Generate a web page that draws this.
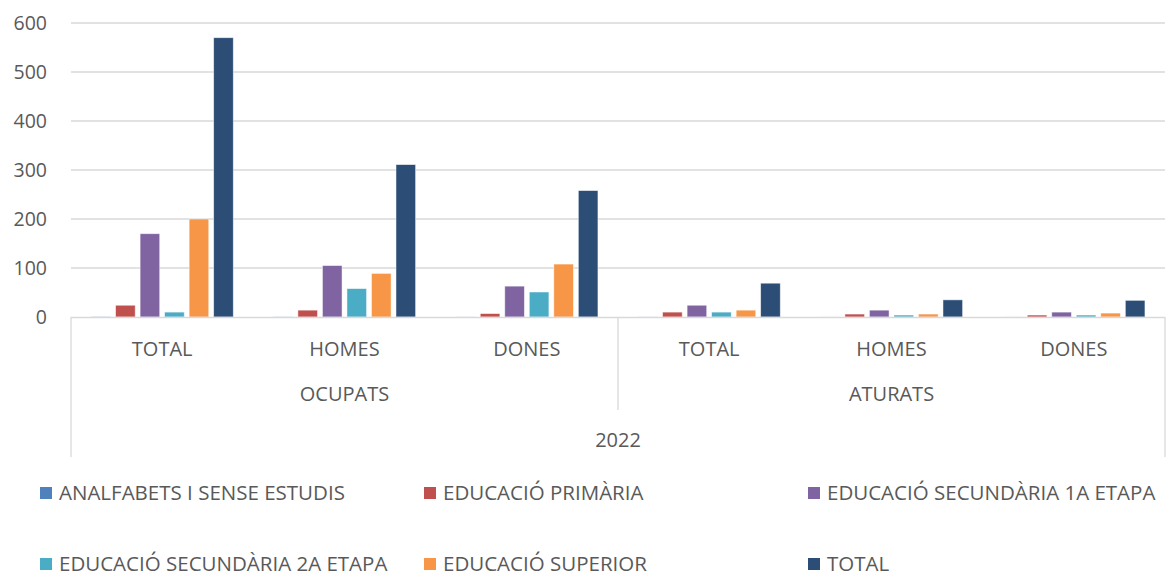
<!DOCTYPE html>
<html>
<head>
<meta charset="utf-8">
<script src="https://cdn.jsdelivr.net/npm/d3@7"></script>
<style>
  body { margin: 0; background: #fff; }
  text { font-family: "Open Sans", sans-serif; fill: #595959; }
</style>
</head>
<body>
<div id="chart"></div>
<script>
// data
let groups = ['OCUPATS', 'ATURATS']
let subcats = ['TOTAL', 'HOMES', 'DONES']
let year = '2022'
let series = [
  'ANALFABETS I SENSE ESTUDIS',
  'EDUCACIÓ PRIMÀRIA',
  'EDUCACIÓ SECUNDÀRIA 1A ETAPA',
  'EDUCACIÓ SECUNDÀRIA 2A ETAPA',
  'EDUCACIÓ SUPERIOR',
  'TOTAL'
]
// one array per category (ocupats total/homes/dones, aturats total/homes/dones), in series order
let ocupatsTotal = [0.5, 24, 170, 10, 200, 570]
let ocupatsHomes = [0.3, 14, 105, 58, 89, 311]
let ocupatsDones = [0.2, 7, 63, 51, 108, 258]
let aturatsTotal = [0.2, 10, 24, 10, 14, 69]
let aturatsHomes = [0.1, 6, 14, 4, 6, 35]
let aturatsDones = [0.1, 4, 10, 4, 8, 34]
let yTicks = [0, 100, 200, 300, 400, 500, 600]

let colors = ['#4F81BD', '#C0504D', '#8064A2', '#4BACC6', '#F79646', '#2C4D75']

let rows = [
  { group: 'OCUPATS', sub: 'TOTAL', values: ocupatsTotal },
  { group: 'OCUPATS', sub: 'HOMES', values: ocupatsHomes },
  { group: 'OCUPATS', sub: 'DONES', values: ocupatsDones },
  { group: 'ATURATS', sub: 'TOTAL', values: aturatsTotal },
  { group: 'ATURATS', sub: 'HOMES', values: aturatsHomes },
  { group: 'ATURATS', sub: 'DONES', values: aturatsDones }
]
rows.forEach((d, i) => (d.key = i))

let width = 1167
let height = 576
let plot = { left: 71, right: 1165, top: 23, bottom: 317 }

let svg = d3
  .select('#chart')
  .append('svg')
  .attr('width', width)
  .attr('height', height)

let x0 = d3
  .scaleBand()
  .domain(rows.map(d => d.key))
  .range([plot.left, plot.right])
  .paddingInner(0.22)
  .paddingOuter(0.11)

let x1 = d3
  .scaleBand()
  .domain(d3.range(series.length))
  .range([0, x0.bandwidth()])
  .paddingInner(0.2)

let y = d3
  .scaleLinear()
  .domain([0, 600])
  .range([plot.bottom, plot.top])

// gridlines
svg
  .selectAll('.grid')
  .data(yTicks.slice(1))
  .enter()
  .append('line')
  .attr('x1', plot.left)
  .attr('x2', plot.right)
  .attr('y1', d => y(d))
  .attr('y2', d => y(d))
  .attr('stroke', '#d9d9d9')
  .attr('stroke-width', 1.3)

// y tick labels
svg
  .selectAll('.ytick')
  .data(yTicks)
  .enter()
  .append('text')
  .attr('x', 47)
  .attr('y', d => y(d))
  .attr('dy', '0.35em')
  .attr('text-anchor', 'end')
  .attr('font-size', 19.5)
  .text(d => d)

// bars
let gBars = svg
  .selectAll('.cat')
  .data(rows)
  .enter()
  .append('g')
  .attr('transform', d => `translate(${x0(d.key)},0)`)

gBars
  .selectAll('rect')
  .data(d => d.values.map((v, i) => ({ v, i })))
  .enter()
  .append('rect')
  .attr('x', d => x1(d.i))
  .attr('width', x1.bandwidth())
  .attr('y', d => y(d.v))
  .attr('height', d => y(0) - y(d.v))
  .attr('fill', d => colors[d.i])
  .attr('stroke', '#fff')
  .attr('stroke-opacity', 0.6)
  .attr('stroke-width', 0.8)

// category axis frame
let step = x0.step()
let axisColor = '#d9d9d9'
svg
  .append('line')
  .attr('x1', plot.left)
  .attr('x2', plot.right)
  .attr('y1', plot.bottom + 0.5)
  .attr('y2', plot.bottom + 0.5)
  .attr('stroke', axisColor)
  .attr('stroke-width', 1.3)

let dividers = [
  { x: plot.left, y2: 457 },
  { x: plot.left + step * 3, y2: 410 },
  { x: plot.right, y2: 457 }
]
svg
  .selectAll('.divider')
  .data(dividers)
  .enter()
  .append('line')
  .attr('x1', d => d.x)
  .attr('x2', d => d.x)
  .attr('y1', plot.bottom)
  .attr('y2', d => d.y2)
  .attr('stroke', axisColor)
  .attr('stroke-width', 1.3)

// subcategory labels
svg
  .selectAll('.sub')
  .data(rows)
  .enter()
  .append('text')
  .attr('x', d => x0(d.key) + x0.bandwidth() / 2)
  .attr('y', 349)
  .attr('dy', '0.35em')
  .attr('text-anchor', 'middle')
  .attr('font-size', 20)
  .text(d => d.sub)

// group labels
svg
  .selectAll('.grp')
  .data(groups)
  .enter()
  .append('text')
  .attr('x', (d, i) => plot.left + step * 3 * i + step * 1.5)
  .attr('y', 394)
  .attr('dy', '0.35em')
  .attr('text-anchor', 'middle')
  .attr('font-size', 20)
  .text(d => d)

svg
  .append('text')
  .attr('x', (plot.left + plot.right) / 2)
  .attr('y', 440)
  .attr('dy', '0.35em')
  .attr('text-anchor', 'middle')
  .attr('font-size', 20)
  .text(year)

// legend
let legendX = [40, 424, 808]
let legendY = [493, 564]
let legend = svg
  .selectAll('.legend-entry')
  .data(series)
  .enter()
  .append('g')
  .attr('class', 'legend-entry')
  .attr('transform', (d, i) => `translate(${legendX[i % 3]},${legendY[Math.floor(i / 3)]})`)

legend
  .append('rect')
  .attr('x', 0)
  .attr('y', -6)
  .attr('width', 12)
  .attr('height', 12)
  .attr('fill', (d, i) => colors[i])

legend
  .append('text')
  .attr('x', 19)
  .attr('dy', '0.35em')
  .attr('font-size', 20.5)
  .text(d => d)
</script>
</body>
</html>
